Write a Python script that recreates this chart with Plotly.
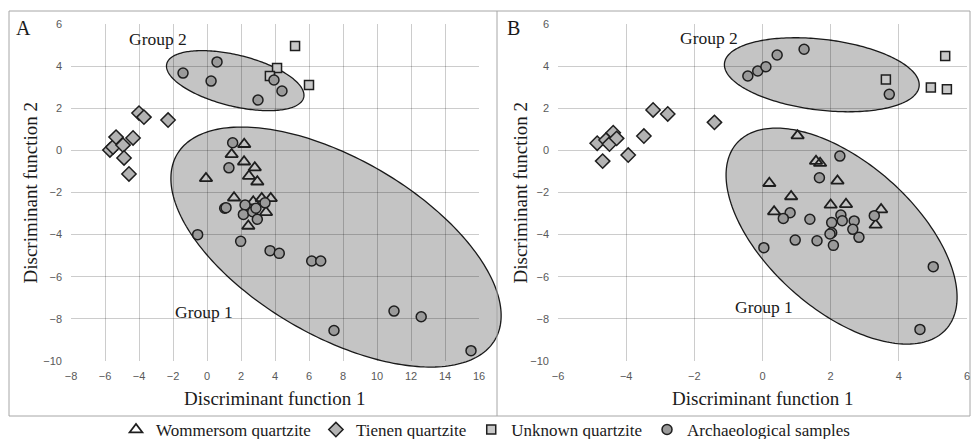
import numpy as np
import plotly.graph_objects as go

# ---------------- Panel A data ----------------
A_wom_x = [2.19, 1.45, 2.18, 2.81, 2.47, 2.96, -0.06, 1.59, 2.72, 3.22, 3.75, 3.47, 2.43]
A_wom_y = [0.29, -0.19, -0.54, -0.82, -1.22, -1.49, -1.33, -2.25, -2.44, -2.28, -2.28, -2.94, -3.59]
A_tie_x = [-5.71, -5.53, -5.35, -4.94, -4.88, -4.35, -4.59, -4.0, -3.71, -2.29]
A_tie_y = [0.02, 0.16, 0.63, 0.25, -0.36, 0.59, -1.12, 1.77, 1.58, 1.44]
A_unk_x = [5.18, 4.12, 3.70, 6.00]
A_unk_y = [4.96, 3.91, 3.53, 3.10]
A_arc_x = [-1.41, 0.59, 0.24, 3.94, 4.41, 3.00,
           1.51, 1.29, 1.04, 1.12, 2.24, 2.14, 2.69, 2.88, 2.96, 3.41, -0.55, 1.98,
           3.71, 4.25, 6.16, 6.69, 11.0, 12.6, 7.47, 15.53]
A_arc_y = [3.67, 4.20, 3.29, 3.34, 2.82, 2.39,
           0.36, -0.83, -2.75, -2.72, -2.59, -3.04, -2.91, -2.75, -3.27, -2.49, -4.00, -4.32,
           -4.76, -4.89, -5.25, -5.25, -7.63, -7.90, -8.55, -9.51]

# ---------------- Panel B data ----------------
B_wom_x = [1.03, 1.57, 1.69, 0.20, 2.20, 0.84, 2.00, 2.45, 0.34, 3.48, 3.32]
B_wom_y = [0.70, -0.51, -0.61, -1.56, -1.45, -2.19, -2.59, -2.56, -2.91, -2.81, -3.54]
B_tie_x = [-4.85, -4.69, -4.59, -4.49, -4.38, -4.28, -3.94, -3.48, -3.21, -2.78, -1.41]
B_tie_y = [0.34, -0.51, 0.49, 0.30, 0.84, 0.57, -0.22, 0.68, 1.92, 1.73, 1.33]
B_unk_x = [3.62, 4.94, 5.41, 5.36]
B_unk_y = [3.37, 2.98, 2.90, 4.48]
B_arc_x = [-0.43, -0.14, 0.10, 0.43, 1.22, 3.72,
           2.27, 1.67, 0.81, 0.61, 1.39, 2.30, 2.34, 2.69, 2.03, 2.65, 2.03, 1.98, 2.83,
           3.28, 0.96, 1.60, 2.08, 0.04, 5.01, 4.62]
B_arc_y = [3.53, 3.77, 3.97, 4.53, 4.80, 2.66,
           -0.27, -1.30, -2.96, -3.23, -3.27, -3.07, -3.34, -3.35, -3.43, -3.75, -3.91, -3.97, -4.13,
           -3.10, -4.26, -4.29, -4.51, -4.62, -5.52, -8.50]

series_names = ["Wommersom quartzite", "Tienen quartzite", "Unknown quartzite", "Archaeological samples"]

A_range_x = [-8, 16]
B_range_x = [-6, 6]
range_y = [-10, 6]

W, H = 971, 439
A_dom = [71 / W, 479 / W]
B_dom = [558 / W, 967 / W]
Y_dom = [1 - 361 / H, 1 - 24 / H]

OUT = '#1e1e1e'
styles = [
    dict(symbol='triangle-up', size=11, color='rgba(0,0,0,0)', line=dict(color=OUT, width=1.8)),
    dict(symbol='diamond', size=11, color='#b3b3b3', line=dict(color=OUT, width=1.5)),
    dict(symbol='square', size=9, color='#c8c8c8', line=dict(color=OUT, width=1.5)),
    dict(symbol='circle', size=10, color='#9a9a9a', line=dict(color=OUT, width=1.5)),
]

fig = go.Figure()
A_sets = [(A_wom_x, A_wom_y), (A_tie_x, A_tie_y), (A_unk_x, A_unk_y), (A_arc_x, A_arc_y)]
B_sets = [(B_wom_x, B_wom_y), (B_tie_x, B_tie_y), (B_unk_x, B_unk_y), (B_arc_x, B_arc_y)]
for i, (name, st) in enumerate(zip(series_names, styles)):
    fig.add_trace(go.Scatter(x=A_sets[i][0], y=A_sets[i][1], mode='markers', name=name,
                             marker=st, legendgroup=name, showlegend=True, xaxis='x', yaxis='y'))
    fig.add_trace(go.Scatter(x=B_sets[i][0], y=B_sets[i][1], mode='markers', name=name,
                             marker=st, legendgroup=name, showlegend=False, xaxis='x2', yaxis='y2'))

# ---------------- ellipses (center in data units, semi-axes in px, screen angle) ----------------
ELLIPSES = [
    dict(panel='A', cx=1.66, cy=3.31, a=70.5, b=25.6, ang=13.8),
    dict(panel='A', cx=7.59, cy=-4.59, a=184, b=88.4, ang=30.2),
    dict(panel='B', cx=1.74, cy=3.59, a=98, b=35.4, ang=6.8),
    dict(panel='B', cx=2.32, cy=-4.07, a=140, b=73.5, ang=41.6),
]

shapes = []
for e in ELLIPSES:
    if e['panel'] == 'A':
        xr, dom, xref, yref = A_range_x, A_dom, 'x domain', 'y domain'
    else:
        xr, dom, xref, yref = B_range_x, B_dom, 'x2 domain', 'y2 domain'
    wpx = (dom[1] - dom[0]) * W
    hpx = (Y_dom[1] - Y_dom[0]) * H
    t = np.linspace(0, 2 * np.pi, 241)
    th = np.radians(e['ang'])
    dx = e['a'] * np.cos(th) * np.cos(t) - e['b'] * np.sin(th) * np.sin(t)
    dy = e['a'] * np.sin(th) * np.cos(t) + e['b'] * np.cos(th) * np.sin(t)
    fx = (e['cx'] - xr[0]) / (xr[1] - xr[0]) + dx / wpx
    fy = (e['cy'] - range_y[0]) / (range_y[1] - range_y[0]) - dy / hpx
    path = 'M ' + ' L '.join(f'{x:.5f},{y:.5f}' for x, y in zip(fx, fy)) + ' Z'
    shapes.append(dict(type='path', path=path, xref=xref, yref=yref, layer='below',
                       fillcolor='#c4c4c4', line=dict(color='#1a1a1a', width=1.3)))

# frame
FR = '#a6a6a6'
shapes.append(dict(type='rect', xref='paper', yref='paper', x0=9 / W, x1=970 / W,
                   y0=1 - 416 / H, y1=1 - 11 / H, line=dict(color=FR, width=1), layer='below'))
shapes.append(dict(type='line', xref='paper', yref='paper', x0=497 / W, x1=497 / W,
                   y0=1 - 416 / H, y1=1 - 11 / H, line=dict(color=FR, width=1), layer='below'))

SERIF = 'Liberation Serif, Times New Roman, serif'
SANS = 'Liberation Sans, Arial, sans-serif'
TXT = '#1a1a1a'


def ann(text, x, y, xref='paper', yref='paper', size=19, angle=0):
    return dict(text=text, x=x, y=y, xref=xref, yref=yref, showarrow=False,
                xanchor='center', yanchor='middle', textangle=angle,
                font=dict(family=SERIF, size=size, color=TXT))


annotations = [
    ann('Discriminant function 1', 275 / W, 1 - 398 / H),
    ann('Discriminant function 1', 762.5 / W, 1 - 398 / H),
    ann('Discriminant function 2', 30 / W, 1 - 192.5 / H, angle=-90),
    ann('Discriminant function 2', 520 / W, 1 - 192.5 / H, angle=-90),
    ann('A', 23 / W, 1 - 28 / H, size=20),
    ann('B', 513 / W, 1 - 28 / H, size=20),
    ann('Group 2', -2.91, 5.29, 'x', 'y', size=17.5),
    ann('Group 1', -0.18, -7.66, 'x', 'y', size=17.5),
    ann('Group 2', -1.57, 5.34, 'x2', 'y2', size=17.5),
    ann('Group 1', 0.04, -7.42, 'x2', 'y2', size=17.5),
]

axis_common = dict(showgrid=True, gridcolor='rgba(0,0,0,0.2)', gridwidth=1, zeroline=False,
                   showline=False, ticks='', dtick=2, tick0=0, automargin=False,
                   tickfont=dict(family=SANS, size=11, color='#595959'))

fig.update_layout(
    width=W, height=H,
    margin=dict(l=0, r=0, t=0, b=0, pad=0, autoexpand=False),
    paper_bgcolor='white', plot_bgcolor='rgba(0,0,0,0)',
    xaxis=dict(domain=A_dom, range=A_range_x, anchor='y', ticklabelstandoff=7, **axis_common),
    yaxis=dict(domain=Y_dom, range=range_y, anchor='x', ticklabelstandoff=8, **axis_common),
    xaxis2=dict(domain=B_dom, range=B_range_x, anchor='y2', ticklabelstandoff=7, **axis_common),
    yaxis2=dict(domain=Y_dom, range=range_y, anchor='x2', ticklabelstandoff=8, **axis_common),
    shapes=shapes,
    annotations=annotations,
    showlegend=True,
    legend=dict(orientation='h', x=0.5, xanchor='center', y=1 - 430 / H, yanchor='middle',
                font=dict(family=SERIF, size=17, color=TXT), itemwidth=30,
                bgcolor='rgba(0,0,0,0)', traceorder='normal'),
)

fig.write_html('out.html', config={'displayModeBar': False},
               post_script="document.body.style.margin='0';document.body.style.overflow='hidden';")
